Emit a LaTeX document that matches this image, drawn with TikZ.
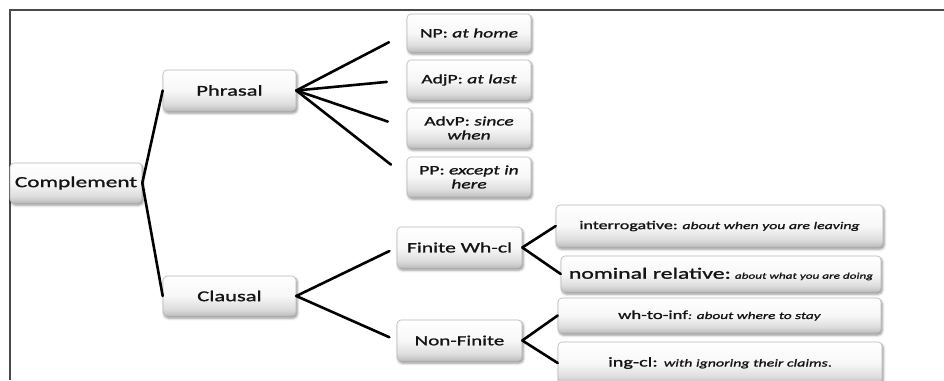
\documentclass[tikz,border=0pt]{standalone}
\usepackage{fontspec}
\setmainfont{Carlito}[FakeStretch=1.5, FakeBold=1.3]
\usetikzlibrary{shadows.blur}

\definecolor{ink}{HTML}{141414}
\definecolor{rim}{HTML}{B8B8B8}
\definecolor{framegray}{HTML}{4A4A4A}

% soft vertical fill: white on top, light grey towards the bottom edge
\pgfdeclareverticalshading{boxfill}{100bp}{%
  color(0bp)=(black!26); color(25bp)=(black!26); color(34bp)=(black!13);
  color(50bp)=(black!3); color(75bp)=(white); color(100bp)=(white)}

\newcommand\fsz[2]{\fontsize{#1pt}{#2pt}\selectfont}

\tikzset{
  box/.style={rounded corners=4pt, draw=rim, line width=0.6pt,
    shade, shading=boxfill, text=ink, align=center, inner sep=0pt,
    blur shadow={shadow xshift=1.2pt, shadow yshift=-2pt,
      shadow blur radius=2.5pt, shadow opacity=45}},
  link/.style={line width=2.6pt, black, line cap=round, line join=round},
}

\begin{document}
\begin{tikzpicture}[x=1pt, y=-1pt]
  \clip (0,0) rectangle (944,380);

  % page frame (top and left rules)
  \draw[framegray, line width=1.4pt] (944,10) -- (10,10) -- (10,380);

  % root and first level
  \node[box, minimum width=132pt, minimum height=40pt, font=\fsz{15.5}{18}] (comp) at (76,183) {Complement};
  \node[box, minimum width=133pt, minimum height=41pt, font=\fsz{15}{18}] (phr) at (229.5,90.5) {Phrasal};
  \node[box, minimum width=133pt, minimum height=40pt, font=\fsz{15}{18}] (cla) at (229.5,296) {Clausal};

  % phrasal complements
  \node[box, minimum width=124pt, minimum height=38pt, font=\fsz{13}{14}] (np)  at (469,33)  {NP: \textit{at home}};
  \node[box, minimum width=124pt, minimum height=40pt, font=\fsz{13}{14}] (adj) at (469,80)  {AdjP: \textit{at last}};
  \node[box, minimum width=124pt, minimum height=40pt, font=\fsz{13}{14}] (adv) at (469,128) {AdvP: \textit{since}\\\textit{when}};
  \node[box, minimum width=124pt, minimum height=40pt, font=\fsz{13}{14}] (pp)  at (469,177) {PP: \textit{except in}\\\textit{here}};

  % clausal complements
  \node[box, minimum width=125pt, minimum height=41pt, font=\fsz{14.4}{17}] (fin) at (459.5,247.5) {Finite Wh-cl};
  \node[box, minimum width=125pt, minimum height=41pt, font=\fsz{14}{17}]   (non) at (459.5,340.5) {Non-Finite};

  \node[box, minimum width=327pt, minimum height=42pt] (int) at (719.5,226)
    {\fsz{12}{14}interrogative:\fsz{10.5}{14}\textit{ about when you are leaving}};
  \node[box, minimum width=320pt, minimum height=36pt] (nom) at (721,274)
    {\fsz{15.8}{17}nominal relative:\fsz{8.8}{17}\textit{ about what you are doing}};
  \node[box, minimum width=323pt, minimum height=35pt] (wh) at (719.5,315.5)
    {\fsz{12.4}{14}wh-to-inf\fsz{10.2}{14}\textit{: about where to stay}};
  \node[box, minimum width=324pt, minimum height=42pt] (ing) at (720,363)
    {\fsz{13.5}{16}ing-cl: \fsz{10.6}{16}\textit{with ignoring their claims}.};

  % connectors
  \draw[link] (comp.east) -- (phr.west);
  \draw[link] (comp.east) -- (cla.west);

  \foreach \t in {np,adj,adv,pp}
    \draw[link, shorten >=20pt] (phr.east) -- (\t.west);

  \draw[link, shorten >=8pt] (cla.east) -- (fin.west);
  \draw[link, shorten >=8pt] (cla.east) -- (non.west);

  \draw[link] (fin.east) -- (int.west);
  \draw[link] (fin.east) -- (nom.west);
  \draw[link] (non.east) -- (wh.west);
  \draw[link] (non.east) -- (ing.west);
\end{tikzpicture}
\end{document}
